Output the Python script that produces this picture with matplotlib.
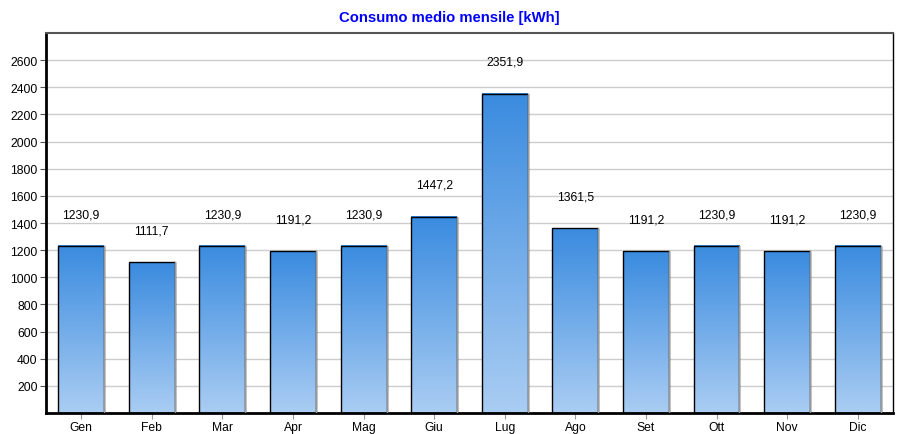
import numpy as np
import matplotlib
matplotlib.use('Agg')
import matplotlib.pyplot as plt
from matplotlib.colors import LinearSegmentedColormap

# data
mesi = ['Gen', 'Feb', 'Mar', 'Apr', 'Mag', 'Giu', 'Lug', 'Ago', 'Set', 'Ott', 'Nov', 'Dic']
consumo = [1230.9, 1111.7, 1230.9, 1191.2, 1230.9, 1447.2, 2351.9, 1361.5, 1191.2, 1230.9, 1191.2, 1230.9]
y_ticks = [200, 400, 600, 800, 1000, 1200, 1400, 1600, 1800, 2000, 2200, 2400, 2600]

plt.rcParams['font.family'] = ['Liberation Sans', 'DejaVu Sans']

fig = plt.figure(figsize=(8.98, 4.35), dpi=100)
ax = fig.add_axes([0.0512, 0.0483, 0.9432, 0.8735])

x = np.arange(len(mesi))
width = 0.65
cmap = LinearSegmentedColormap.from_list('grad', ['#aacdf3', '#3a8bdf'])
grad = np.linspace(0, 1, 256).reshape(-1, 1)

bars = ax.bar(x, consumo, width=width, color='none', edgecolor='black', linewidth=1.0, zorder=3)
for b in bars:
    x0, h = b.get_x(), b.get_height()
    ax.imshow(grad, cmap=cmap, origin='lower', aspect='auto',
              extent=(x0, x0 + width, 0, h), zorder=2)
    # lighter right edge
    ax.plot([x0 + width, x0 + width], [0, h], color='#9a9a9a', lw=1.0, zorder=4)

for xi, v in zip(x, consumo):
    ax.annotate(f'{v:.1f}'.replace('.', ','), (xi, v), xytext=(0, 23),
                textcoords='offset points', ha='center', va='center', fontsize=8.7)

ax.set_xlim(-0.5, len(mesi) - 0.5)
ax.set_ylim(0, 2800)
ax.set_xticks(x)
ax.set_xticklabels(mesi, fontsize=8.7)
ax.set_yticks(y_ticks)
ax.set_yticklabels([str(t) for t in y_ticks], fontsize=8.7)
ax.yaxis.grid(True, color='#cccccc', lw=1.0, zorder=0)
ax.set_axisbelow(True)
ax.tick_params(axis='y', length=4, width=0.8, color='#555555', pad=2)
ax.tick_params(axis='x', length=4, width=0.8, color='#999999', pad=1.5)

ax.spines['left'].set_linewidth(2)
ax.spines['bottom'].set_linewidth(2)
ax.spines['top'].set_color('#555555')
ax.spines['top'].set_linewidth(1.5)
ax.spines['right'].set_linewidth(1)

fig.text(0.5, 0.958, 'Consumo medio mensile [kWh]', ha='center', va='center',
         color='#0000ff', fontsize=10.7, fontweight='bold')

fig.savefig('out.png', dpi=100)
